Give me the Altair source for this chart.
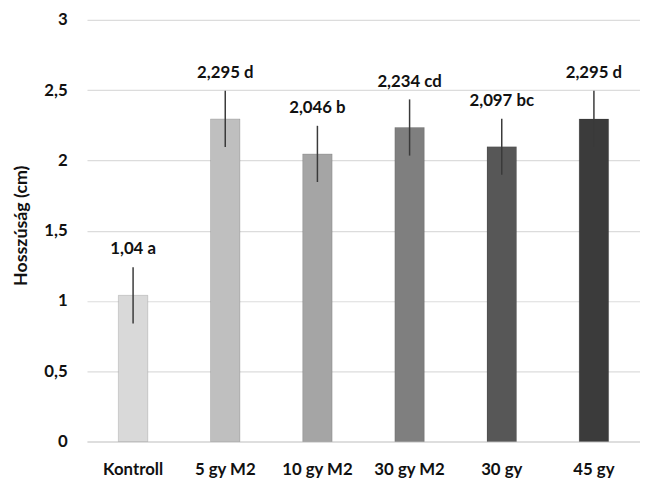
import altair as alt
import pandas as pd

categories = ["Kontroll", "5 gy M2", "10 gy M2", "30 gy M2", "30 gy", "45 gy"]
values = [1.04, 2.295, 2.046, 2.234, 2.097, 2.295]
errors = [0.2, 0.2, 0.2, 0.2, 0.2, 0.2]
labels = ["1,04 a", "2,295 d", "2,046 b", "2,234 cd", "2,097 bc", "2,295 d"]
colors = ["#d9d9d9", "#bfbfbf", "#a5a5a5", "#7f7f7f", "#575757", "#3b3b3b"]

df = pd.DataFrame({
    "cat": categories,
    "val": values,
    "lo": [v - e for v, e in zip(values, errors)],
    "hi": [v + e for v, e in zip(values, errors)],
    "label": labels,
})

FONT = "Lato"

x = alt.X("cat:N", sort=categories, title=None,
          scale=alt.Scale(paddingInner=0.68, paddingOuter=0.34),
          axis=alt.Axis(labelAngle=0, ticks=False, labelPadding=20,
                        labelFontSize=17, labelFontWeight="bold", labelColor="#111",
                        labelFont=FONT, domainColor="#d0d0d0", domainWidth=1.2))

bars = alt.Chart(df).mark_bar(stroke="#00000022", strokeWidth=1).encode(
    x=x,
    y=alt.Y("val:Q", title="Hosszúság (cm)",
            scale=alt.Scale(domain=[0, 3]),
            axis=alt.Axis(values=[0, 0.5, 1, 1.5, 2, 2.5, 3],
                          labelExpr="replace(format(datum.value, '~g'), '.', ',')",
                          domain=False, ticks=False, labelPadding=20,
                          labelFontSize=17, labelFontWeight="bold", labelColor="#111",
                          labelFont=FONT, titleFont=FONT, titleFontSize=18,
                          titleFontWeight="bold", titleColor="#111",
                          titleX=-57, titleY=208, titleAlign="center",
                          gridColor="#dcdcdc", gridWidth=1.2)),
    color=alt.Color("cat:N", sort=categories,
                    scale=alt.Scale(domain=categories, range=colors), legend=None),
)

err = alt.Chart(df).mark_rule(color="#3a3a3a", strokeWidth=1.5).encode(
    x=alt.X("cat:N", sort=categories),
    y="lo:Q",
    y2="hi:Q",
)

text = alt.Chart(df).mark_text(baseline="alphabetic", dy=-13, fontSize=17,
                               fontWeight="bold", font=FONT, color="#111").encode(
    x=alt.X("cat:N", sort=categories),
    y="hi:Q",
    text="label:N",
)

chart = alt.layer(bars, err, text).properties(
    width=560, height=427,
    autosize=alt.AutoSizeParams(type="none"),
    padding={"left": 80, "top": 9, "right": 0, "bottom": 34},
).configure_view(stroke=None)

chart.save("out.html", embed_options={"renderer": "svg", "actions": False})
